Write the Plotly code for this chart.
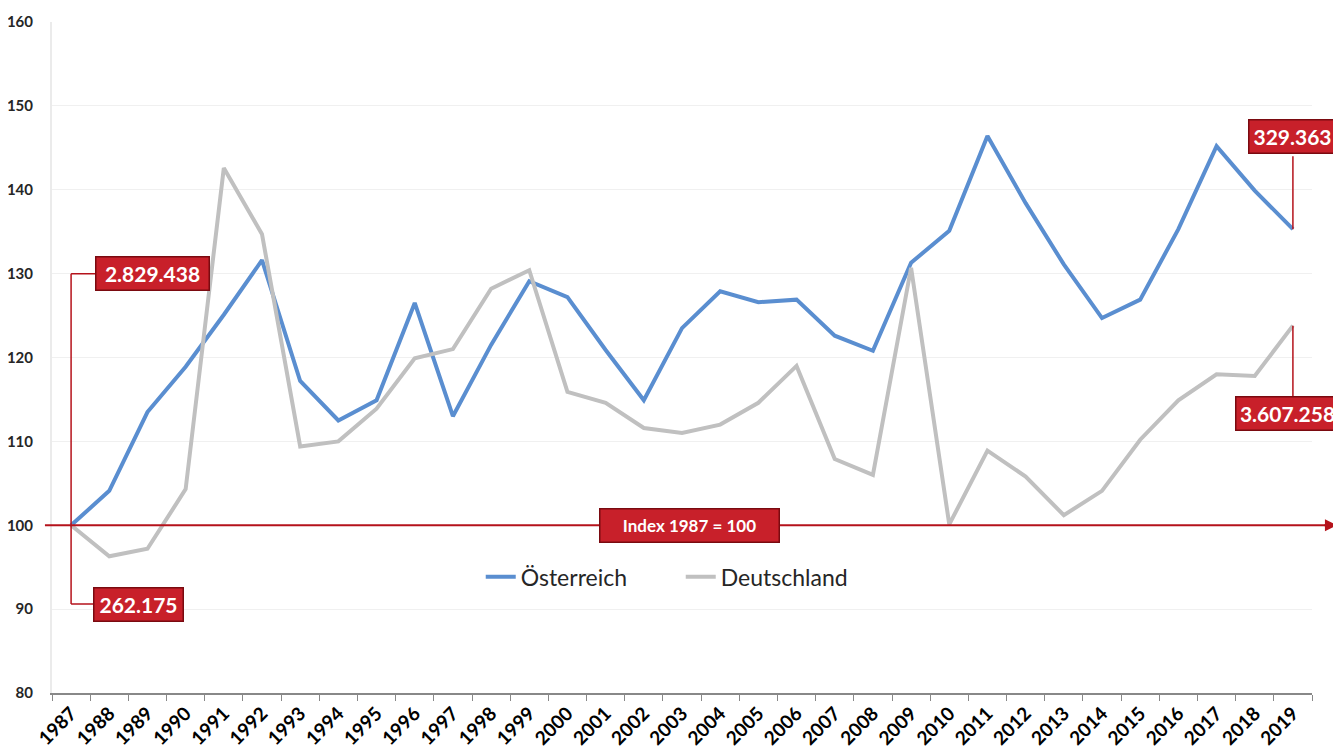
import plotly.graph_objects as go

years = [str(y) for y in range(1987, 2020)]
oesterreich = [100, 104.1, 113.5, 118.9, 125.1, 131.6, 117.2, 112.5, 114.9, 126.5,
               113.0, 121.5, 129.1, 127.2, 120.9, 114.9, 123.5, 127.9, 126.6, 126.9,
               122.6, 120.8, 131.3, 135.1, 146.4, 138.4, 131.1, 124.7, 126.9, 135.3,
               145.2, 139.9, 135.3]
deutschland = [100, 96.3, 97.2, 104.3, 142.6, 134.7, 109.4, 110.0, 113.9, 119.9,
               121.0, 128.2, 130.4, 115.9, 114.6, 111.6, 111.0, 112.0, 114.6, 119.0,
               107.9, 106.0, 130.7, 100.1, 108.9, 105.8, 101.2, 104.1, 110.2, 114.9,
               118.0, 117.8, 123.8]
y_ticks = [80, 90, 100, 110, 120, 130, 140, 150, 160]
label_start_top = "2.829.438"
label_start_bottom = "262.175"
label_end_top = "329.363"
label_end_bottom = "3.607.258"
index_label = "Index 1987 = 100"

BLUE = "#5A8ED0"
GREY = "#C0C0C0"
RED = "#B5121B"
BOXRED = "#C8202A"
FONT = "Lato, 'Open Sans', sans-serif"

fig = go.Figure()
fig.add_trace(go.Scatter(x=years, y=oesterreich, mode="lines", name="Österreich",
                         line=dict(color=BLUE, width=4)))
fig.add_trace(go.Scatter(x=years, y=deutschland, mode="lines", name="Deutschland",
                         line=dict(color=GREY, width=4)))

# connector lines
shape_line = dict(color=RED, width=1.5)
fig.add_shape(type="line", xref="x", yref="y", x0=0, x1=0, y0=130, y1=90.6, line=shape_line)
fig.add_shape(type="line", xref="x", yref="y", x0=0, x1=1.0, y0=130, y1=130, line=shape_line)
fig.add_shape(type="line", xref="x", yref="y", x0=0, x1=1.0, y0=90.6, y1=90.6, line=shape_line)
fig.add_shape(type="line", xref="x", yref="y", x0=32, x1=32, y0=oesterreich[-1], y1=144, line=shape_line)
fig.add_shape(type="line", xref="x", yref="y", x0=32, x1=32, y0=deutschland[-1], y1=115, line=shape_line)

# index arrow line (extends past the plot area to the right)
fig.add_shape(type="line", xref="paper", yref="y", x0=-0.0056, x1=1.0143, y0=100, y1=100,
              line=dict(color=RED, width=2))
fig.add_annotation(x=1.0198, y=100, xref="paper", yref="y", ax=-14, ay=0,
                   text="", showarrow=True, arrowhead=2, arrowsize=1.2, arrowwidth=2,
                   arrowcolor=RED, standoff=0)


def box(text, x, y, w, h=24, size=21):
    fig.add_annotation(x=x, y=y, xref="x", yref="y", text="<b>%s</b>" % text, showarrow=False,
                       font=dict(family=FONT, size=size, color="white"),
                       bgcolor=BOXRED, bordercolor="#7A0A10", borderwidth=1.5, borderpad=4,
                       width=w, height=h, align="center", valign="middle")


box(label_start_top, 2.12, 130, 104)
box(label_start_bottom, 1.77, 90.6, 80)
box(label_end_top, 32.0, 146.35, 78)
box(label_end_bottom, 31.85, 113.3, 94)
box(index_label, 16.2, 100, 170, size=17)

# page body has an 8px margin, compensate so the plot area lands where the reference has it
fig.update_layout(
    width=1341, height=751,
    margin=dict(l=44, r=37, t=14, b=66, autoexpand=False),
    paper_bgcolor="white", plot_bgcolor="white",
    font=dict(family=FONT, color="#262626"),
    showlegend=True,
    legend=dict(orientation="h", x=0.499, y=0.173, xanchor="center", yanchor="middle",
                font=dict(family=FONT, size=23, color="#262626"), bgcolor="rgba(0,0,0,0)",
                entrywidth=155, entrywidthmode="pixels"),
    xaxis=dict(type="category", tickson="boundaries", ticks="outside", ticklen=6,
               tickcolor="#888888", showline=True, linecolor="#888888", linewidth=2,
               showgrid=False, tickangle=-45, automargin=False,
               tickfont=dict(family=FONT, size=19, color="#000000", weight="bold"),
               range=[-0.5, 32.5]),
    yaxis=dict(range=[80, 160], tickvals=y_ticks, showgrid=True, gridcolor="#F0F0F0",
               zeroline=False, showline=True, linecolor="#EBEBEB", linewidth=2,
               tickfont=dict(family=FONT, size=15, color="#262626", weight="bold"),
               ticks="", ticklabelstandoff=14, automargin=False),
)

fig.write_html("out.html")
